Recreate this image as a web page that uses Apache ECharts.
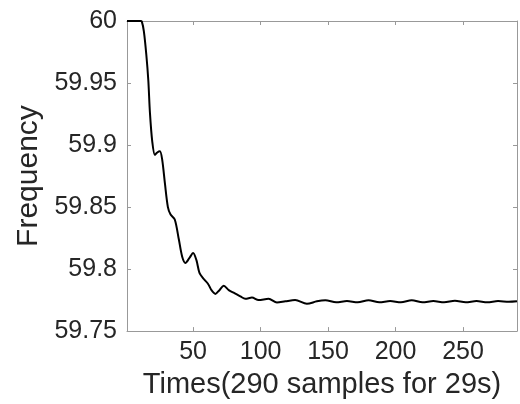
<!DOCTYPE html>
<html>
<head>
<meta charset="utf-8">
<script src="https://cdn.jsdelivr.net/npm/echarts@6/dist/echarts.min.js"></script>
<style>html,body{margin:0;padding:0;background:#fff;}#c{width:520px;height:404px;}</style>
</head>
<body>
<div id="c"></div>
<script>
// Sample index (x) and frequency values (y)
const xs = [1, 5, 11, 12, 13.5, 15.3, 16.8, 18, 19.7, 21.7, 23.4, 25.4, 27.1, 29.1, 31.3, 33.3, 36.4, 39.4, 41.9, 44.3, 47.3, 50, 52.5, 54.7, 57.9, 61.1, 63.6, 66.5, 69.5, 72.7, 76.4, 80, 85, 88.7, 93.6, 98.5, 105.9, 112.1, 118.3, 125.6, 134.3, 141.7, 148, 156, 164, 172, 180, 188, 196, 204, 212, 220, 228, 236, 244, 252, 260, 268, 276, 284, 290];
const freq = [60, 60, 60, 59.9995, 59.9916, 59.973, 59.952, 59.926, 59.903, 59.892, 59.894, 59.895, 59.888, 59.869, 59.850, 59.844, 59.840, 59.824, 59.810, 59.805, 59.809, 59.813, 59.807, 59.797, 59.792, 59.788, 59.783, 59.780, 59.783, 59.7865, 59.783, 59.781, 59.778, 59.776, 59.777, 59.775, 59.776, 59.773, 59.774, 59.775, 59.772, 59.774, 59.7748, 59.7732, 59.7742, 59.7732, 59.7748, 59.7732, 59.7742, 59.7732, 59.7748, 59.7732, 59.7742, 59.7732, 59.7745, 59.7733, 59.7742, 59.7733, 59.7742, 59.7736, 59.774];
const xTicks = [50, 100, 150, 200, 250];
const yTicks = [59.75, 59.8, 59.85, 59.9, 59.95, 60];
const yTickLabels = ['59.75', '59.8', '59.85', '59.9', '59.95', '60'];
const xTitle = 'Times(290 samples for 29s)';
const yTitle = 'Frequency';

const txt = '#262626';
const axisCol = '#999999';
const font = 'Liberation Sans';

const chart = echarts.init(document.getElementById('c'), null, {renderer: 'canvas'});
const baseX = {
  type: 'value', min: 1, max: 290,
  axisLine: {show: true, onZero: false, lineStyle: {color: axisCol, width: 1}},
  splitLine: {show: false}
};
const baseY = {
  type: 'value', min: 59.75, max: 60,
  axisLine: {show: true, onZero: false, lineStyle: {color: axisCol, width: 1}},
  splitLine: {show: false}
};
chart.setOption({
  animation: false,
  backgroundColor: '#fff',
  grid: {left: 127, right: 3, top: 21, bottom: 64, containLabel: false},
  xAxis: [
    Object.assign({}, baseX, {
      position: 'bottom',
      name: xTitle, nameLocation: 'middle', nameGap: 33,
      nameTextStyle: {color: txt, fontSize: 29, fontFamily: font},
      axisTick: {show: true, inside: true, length: 4, lineStyle: {color: axisCol}, customValues: xTicks},
      axisLabel: {show: true, color: txt, fontSize: 25, fontFamily: font, margin: 9, customValues: xTicks}
    }),
    Object.assign({}, baseX, {
      position: 'top',
      axisTick: {show: true, inside: true, length: 4, lineStyle: {color: axisCol}, customValues: xTicks},
      axisLabel: {show: false}
    })
  ],
  yAxis: [
    Object.assign({}, baseY, {
      position: 'left',
      name: yTitle, nameLocation: 'middle', nameGap: 72,
      nameTextStyle: {color: txt, fontSize: 30, fontFamily: font},
      axisTick: {show: true, inside: true, length: 4, lineStyle: {color: axisCol}, customValues: yTicks},
      axisLabel: {show: true, color: txt, fontSize: 25, fontFamily: font, margin: 10, customValues: yTicks,
        formatter: function (v) { const i = yTicks.findIndex(t => Math.abs(t - v) < 1e-6); return i >= 0 ? yTickLabels[i] : ''; }}
    }),
    Object.assign({}, baseY, {
      position: 'right',
      axisTick: {show: true, inside: true, length: 4, lineStyle: {color: axisCol}, customValues: yTicks},
      axisLabel: {show: false}
    })
  ],
  series: [{
    type: 'line',
    xAxisIndex: 0, yAxisIndex: 0,
    data: xs.map((x, i) => [x, freq[i]]),
    smooth: 0.3,
    showSymbol: false,
    lineStyle: {color: '#000', width: 2},
    clip: true
  }]
});
</script>
</body>
</html>
